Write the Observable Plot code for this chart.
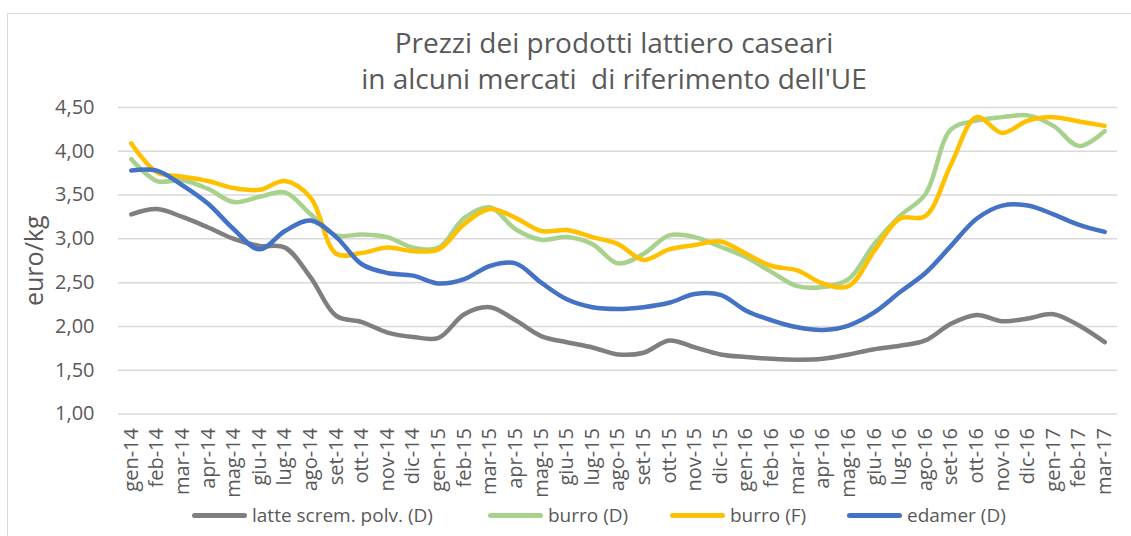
<!DOCTYPE html>
<html>
<head>
<meta charset="utf-8">
<script src="https://cdn.jsdelivr.net/npm/d3@7"></script>
<script src="https://cdn.jsdelivr.net/npm/@observablehq/plot@0.6"></script>
<style>
  html, body { margin: 0; padding: 0; background: #fff; overflow: hidden; }
  #wrap { position: relative; width: 1131px; height: 536px; font-family: "Open Sans", sans-serif; color: #595959; }
  #frame { position: absolute; left: 7px; top: 13px; width: 1300px; height: 700px; border: 1px solid #d9d9d9; box-sizing: border-box; }
  #chart { position: absolute; left: 0; top: 0; width: 1131px; height: 500px; }
  #chart svg { display: block; overflow: visible; }
  #title { position: absolute; left: 97px; width: 1034px; top: 24px; text-align: center; font-size: 28px; line-height: 36px; white-space: pre; }
  #legend { position: absolute; left: 0; top: 500px; width: 1131px; height: 36px; }
  .item { position: absolute; top: 2px; display: flex; align-items: center; font-size: 19px; line-height: 26px; white-space: nowrap; }
  .sw { width: 55px; height: 5px; border-radius: 3px; margin-right: 5px; }
</style>
</head>
<body>
<div id="wrap">
  <div id="frame"></div>
  <div id="chart"></div>
  <div id="title"></div>
  <div id="legend"></div>
</div>
<script>
const titleLines = ["Prezzi dei prodotti lattiero caseari", "in alcuni mercati  di riferimento dell'UE"];
const yLabel = "euro/kg";

const months = ["gen-14","feb-14","mar-14","apr-14","mag-14","giu-14","lug-14","ago-14","set-14","ott-14","nov-14","dic-14",
  "gen-15","feb-15","mar-15","apr-15","mag-15","giu-15","lug-15","ago-15","set-15","ott-15","nov-15","dic-15",
  "gen-16","feb-16","mar-16","apr-16","mag-16","giu-16","lug-16","ago-16","set-16","ott-16","nov-16","dic-16",
  "gen-17","feb-17","mar-17"];

const seriesNames = ["latte screm. polv. (D)", "burro (D)", "burro (F)", "edamer (D)"];
const seriesColors = ["#7f7f7f", "#a9d18e", "#ffc000", "#4472c4"];

const latte = [3.28,3.34,3.25,3.13,3.00,2.92,2.90,2.56,2.12,2.05,1.93,1.88,
  1.87,2.14,2.22,2.07,1.89,1.82,1.76,1.68,1.70,1.84,1.76,1.68,
  1.65,1.63,1.62,1.63,1.68,1.74,1.78,1.84,2.03,2.13,2.06,2.09,
  2.14,2.01,1.82];
const burroD = [3.91,3.66,3.67,3.57,3.42,3.48,3.53,3.28,3.04,3.05,3.02,2.90,
  2.90,3.24,3.36,3.11,2.99,3.02,2.94,2.72,2.83,3.04,3.02,2.91,
  2.79,2.62,2.46,2.45,2.54,2.94,3.26,3.51,4.25,4.35,4.39,4.41,
  4.29,4.06,4.23];
const burroF = [4.09,3.76,3.71,3.66,3.58,3.56,3.66,3.47,2.83,2.84,2.90,2.86,
  2.88,3.17,3.34,3.24,3.09,3.10,3.02,2.94,2.76,2.88,2.93,2.97,
  2.83,2.69,2.64,2.49,2.46,2.86,3.23,3.26,3.85,4.39,4.21,4.35,
  4.39,4.34,4.29];
const edamer = [3.78,3.78,3.61,3.40,3.11,2.88,3.09,3.21,3.02,2.71,2.61,2.58,
  2.49,2.54,2.69,2.72,2.50,2.31,2.22,2.20,2.22,2.27,2.37,2.36,
  2.18,2.07,1.99,1.96,2.01,2.16,2.39,2.61,2.92,3.23,3.38,3.38,
  3.28,3.16,3.08];
const yTicks = [1.0,1.5,2.0,2.5,3.0,3.5,4.0,4.5];
const yDomain = [1, 4.5];

const allSeries = [latte, burroD, burroF, edamer];
const rows = [];
allSeries.forEach((vals, s) => vals.forEach((v, i) => rows.push({idx: i, month: months[i], value: v, series: seriesNames[s]})));
const monthIdx = months.map((m, i) => i);
const xDomain = [-0.5, months.length - 0.5];

document.getElementById("title").textContent = titleLines.join("\n");

const fmt = d => d.toFixed(2).replace(".", ",");

const plot = Plot.plot({
  width: 1131,
  height: 500,
  marginLeft: 118,
  marginRight: 14,
  marginTop: 107,
  marginBottom: 86.5,
  style: {fontFamily: "Open Sans, sans-serif", color: "#595959", background: "transparent", overflow: "visible"},
  x: {type: "linear", domain: xDomain, label: null},
  y: {domain: yDomain, label: null},
  color: {domain: seriesNames, range: seriesColors},
  marks: [
    Plot.gridY(yTicks, {stroke: "#d9d9d9", strokeOpacity: 1, strokeWidth: 1.5}),
    Plot.axisY(yTicks, {tickSize: 0, tickPadding: 24, tickFormat: fmt, fontSize: 20, fill: "#595959", label: null}),
    Plot.axisX(monthIdx, {tickSize: 0, tickRotate: -90, tickPadding: 14, tickFormat: i => months[i], fontSize: 20, fill: "#595959", label: null}),
    Plot.text([yLabel], {x: () => xDomain[0], y: () => d3.mean(yDomain), dx: -84, rotate: -90, fontSize: 25, fill: "#595959", text: d => d, textAnchor: "middle", lineAnchor: "middle"}),
    Plot.line(rows, {x: "idx", y: "value", z: "series", stroke: "series", strokeWidth: 4.5, curve: "catmull-rom", strokeLinecap: "round", strokeLinejoin: "round"})
  ]
});
document.getElementById("chart").appendChild(plot);

const legendX = [192, 488, 670, 847];
const legend = document.getElementById("legend");
seriesNames.forEach((name, i) => {
  const it = document.createElement("div");
  it.className = "item";
  it.style.left = legendX[i] + "px";
  const sw = document.createElement("div");
  sw.className = "sw";
  sw.style.background = seriesColors[i];
  const tx = document.createElement("span");
  tx.textContent = name;
  it.appendChild(sw);
  it.appendChild(tx);
  legend.appendChild(it);
});
</script>
</body>
</html>
